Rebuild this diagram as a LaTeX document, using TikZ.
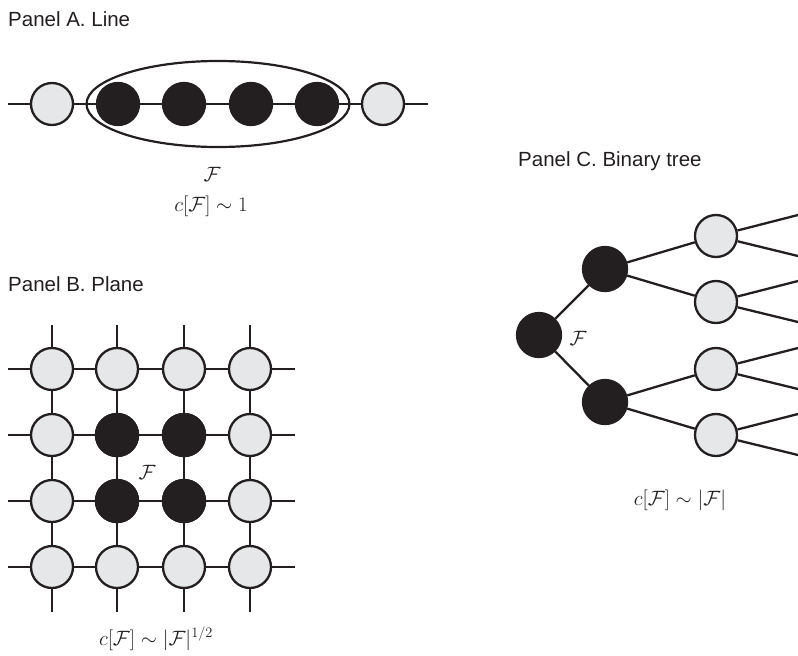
\documentclass[tikz,border=0pt]{standalone}
\usepackage{fontspec}
\setmainfont{Liberation Sans}
\usetikzlibrary{shapes.geometric}
\definecolor{nodegray}{HTML}{E6E7E8}
\definecolor{nodeblack}{HTML}{231F20}
\begin{document}
\begin{tikzpicture}[x=1pt,y=-1pt,
  gnode/.style={circle,draw=nodeblack,fill=nodegray,line width=2.3pt,minimum size=42pt,inner sep=0pt},
  bnode/.style={circle,draw=nodeblack,fill=nodeblack,line width=2.3pt,minimum size=42pt,inner sep=0pt},
  edge/.style={draw=nodeblack,line width=2.3pt},
  title/.style={anchor=base west,inner sep=0pt,text=nodeblack,font=\fontsize{20.5}{24}\selectfont},
  lab/.style={inner sep=0pt,text=nodeblack,font=\fontsize{20.74}{24}\selectfont},
]
\useasboundingbox (0,0) rectangle (798,656);

% ---------- Panel A ----------
\node[title] (tA) at (8,26) {Panel A. Line};
\coordinate (aL) at (8,104);
\coordinate (aR) at (428,104);
\node[gnode] (a1) at (52,104) {};
\node[bnode] (a2) at (118,104) {};
\node[bnode] (a3) at (184,104) {};
\node[bnode] (a4) at (251,104) {};
\node[bnode] (a5) at (317,104) {};
\node[gnode] (a6) at (383,104) {};
\draw[edge] (aL) -- (a1) (a1) -- (a2) (a2) -- (a3) (a3) -- (a4) (a4) -- (a5) (a5) -- (a6) (a6) -- (aR);
\node[ellipse,draw=nodeblack,line width=2.2pt,minimum width=263pt,minimum height=86pt,inner sep=0pt] (ell) at (218,104) {};
\node[lab,anchor=base] (fA) at (212,181) {$\mathcal{F}$};
\node[lab,anchor=base] (cA) at (211,211) {$c[\mathcal{F}]\sim 1$};

% ---------- Panel B ----------
\node[title] (tB) at (8,291) {Panel B. Plane};
\foreach \i/\x in {1/52,2/117,3/184,4/250}{
  \foreach \j/\y in {1/369,2/435,3/501,4/567}{
    \node[gnode] (g\i\j) at (\x,\y) {};
  }
  \coordinate (top\i) at (\x,325);
  \coordinate (bot\i) at (\x,612);
}
\foreach \j/\y in {1/369,2/435,3/501,4/567}{
  \coordinate (lft\j) at (8,\y);
  \coordinate (rgt\j) at (295,\y);
}
\node[bnode] at (g22) {};
\node[bnode] at (g32) {};
\node[bnode] at (g23) {};
\node[bnode] at (g33) {};
\foreach \i in {1,2,3,4}{
  \draw[edge] (top\i) -- (g\i1) (g\i1) -- (g\i2) (g\i2) -- (g\i3) (g\i3) -- (g\i4) (g\i4) -- (bot\i);
  \draw[edge] (lft\i) -- (g1\i) (g1\i) -- (g2\i) (g2\i) -- (g3\i) (g3\i) -- (g4\i) (g4\i) -- (rgt\i);
}
\node[lab] (fB) at (147,472) {$\mathcal{F}$};
\node[lab,anchor=base] (cB) at (156,645) {$c[\mathcal{F}]\sim |\mathcal{F}|^{1/2}$};

% ---------- Panel C ----------
\node[title] (tC) at (518,166) {Panel C. Binary tree};
\node[bnode,minimum size=44pt] (r) at (539,335) {};
\node[bnode,minimum size=44pt] (b1) at (605,269) {};
\node[bnode,minimum size=44pt] (b2) at (605,402) {};
\draw[edge] (r) -- (b1) (r) -- (b2);
\foreach \k/\y in {1/236,2/302,3/369,4/435}{
  \node[gnode] (t\k) at (716,\y) {};
  \coordinate (eu\k) at (798,\y-21);
  \coordinate (ed\k) at (798,\y+20);
  \draw[edge] (t\k) -- (eu\k) (t\k) -- (ed\k);
}
\draw[edge] (b1) -- (t1) (b1) -- (t2) (b2) -- (t3) (b2) -- (t4);
\node[lab] (fC) at (578,338) {$\mathcal{F}$};
\node[lab,anchor=base] (cC) at (680,505) {$c[\mathcal{F}]\sim |\mathcal{F}|$};
\end{tikzpicture}
\end{document}
